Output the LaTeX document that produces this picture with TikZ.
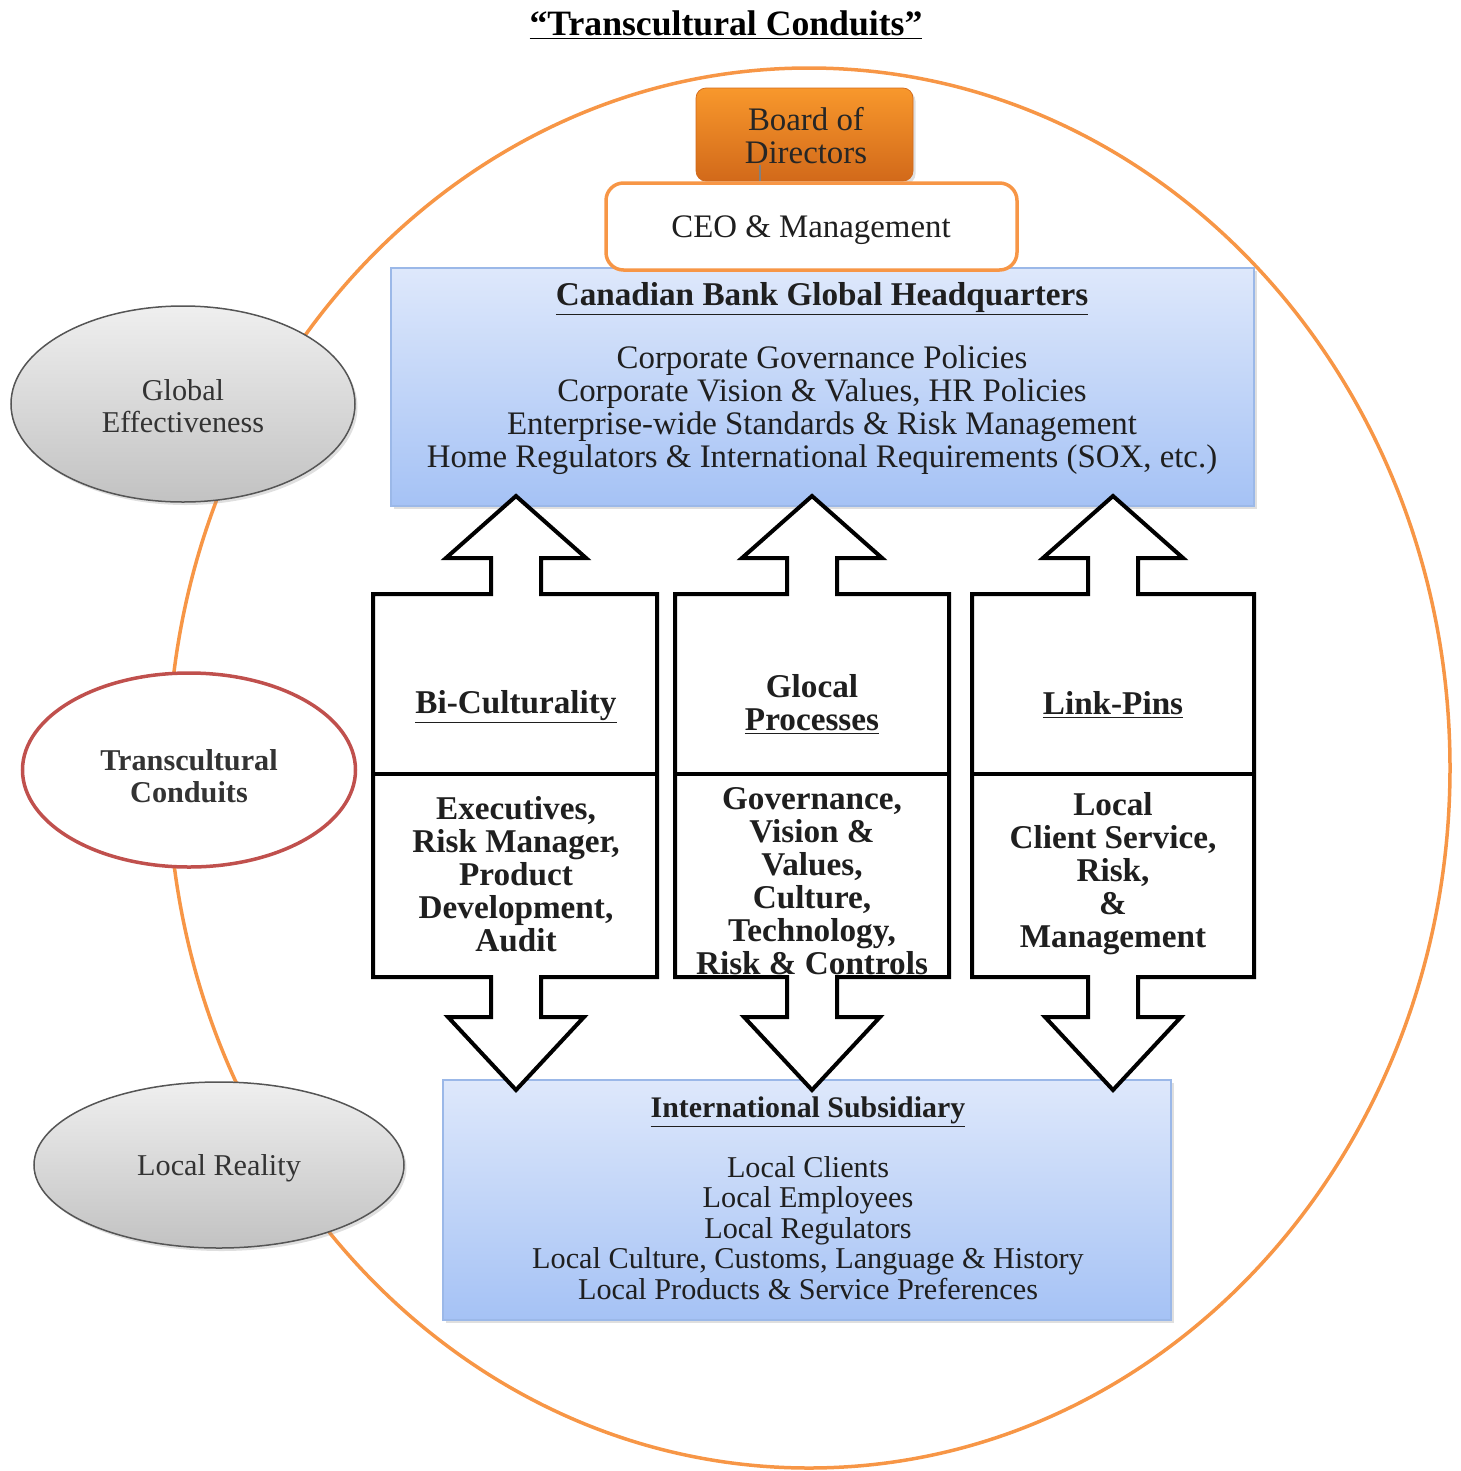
\documentclass[tikz,border=0pt]{standalone}
\usepackage{fontspec}
\setmainfont{Liberation Serif}
\usetikzlibrary{fit,shapes.geometric,shadows}

\definecolor{ringorange}{HTML}{F79646}
\definecolor{boardtop}{HTML}{F8982C}
\definecolor{boardbot}{HTML}{D2691A}
\definecolor{bluetop}{HTML}{DEE8FB}
\definecolor{bluebot}{HTML}{A5C2F5}
\definecolor{blueline}{HTML}{9BB8E8}
\definecolor{ovaltop}{HTML}{EFEFEF}
\definecolor{ovalbot}{HTML}{C2C2C2}
\definecolor{ovalline}{HTML}{555555}
\definecolor{conduitred}{HTML}{C0504D}

\tikzset{
  softshadow/.style={drop shadow={opacity=0.25, shadow xshift=0.5mm, shadow yshift=-0.6mm}},
  bluebox/.style={draw=blueline, line width=0.4mm, top color=bluetop, bottom color=bluebot, inner sep=0pt, softshadow},
  grayoval/.style={ellipse, draw=ovalline, line width=0.3mm, top color=ovaltop, bottom color=ovalbot, inner sep=0pt, softshadow},
  colbox/.style={draw=black, line width=0.8mm, fill=white, line join=miter},
  bodytext/.style={font=\fontsize{18.7}{18.8}\selectfont, align=center, inner sep=0pt, text=black!88},
  boldtext/.style={bodytext, font=\fontsize{18.9}{18.8}\selectfont\bfseries},
  subtext/.style={bodytext, font=\fontsize{17.2}{17.3}\selectfont},
  ovaltext/.style={font=\fontsize{17.2}{18}\selectfont, align=center, text=black!80}
}

\begin{document}
\begin{tikzpicture}[x=0.2mm, y=-0.2mm]
  \useasboundingbox (0,0) rectangle (1461,1471);

  % title
  \node[font=\fontsize{20.3}{22}\selectfont\bfseries, inner sep=0pt] (title) at (726,25)
    {\underline{“Transcultural Conduits”}};

  % orange ring
  \draw[ringorange, line width=0.7mm] (809,768) ellipse [x radius=641, y radius=700];

  % headquarters
  \node[bluebox, fit={(391,268) (1254,506)}] (hq) {};
  \node[boldtext] (hqtitle) at (822,299) {\underline{Canadian Bank Global Headquarters}};
  \node[bodytext] (hqbody) at (822,410) {Corporate Governance Policies\\
    Corporate Vision \& Values, HR Policies\\
    Enterprise-wide Standards \& Risk Management\\
    Home Regulators \& International Requirements (SOX, etc.)};

  % board and CEO
  \node[draw=boardbot, rounded corners=2mm, top color=boardtop, bottom color=boardbot,
    inner sep=0pt, softshadow, fit={(696,88) (913,181)}] (board) {};
  \node[bodytext, text=black!85] at (806,136) {Board of\\Directors};
  \node[draw=ringorange, line width=0.7mm, rounded corners=3.5mm, fill=white,
    inner sep=0pt, fit={(606,183) (1017,270)}] (ceo) {};
  \node[bodytext] at (811,230) {CEO \& Management};
  \coordinate (bodtick) at (760,165);
  \draw[gray, line width=0.3mm] (bodtick) -- (bodtick |- ceo.north);

  % subsidiary
  \node[bluebox, fit={(443,1080) (1171,1320)}] (sub) {};
  \node[font=\fontsize{17}{18}\selectfont\bfseries, inner sep=0pt, text=black!88] (subtitle) at (808,1112)
    {\underline{International Subsidiary}};
  \node[subtext] (subbody) at (808,1228) {Local Clients\\Local Employees\\Local Regulators\\
    Local Culture, Customs, Language \& History\\Local Products \& Service Preferences};

  % side ovals
  \node[grayoval, minimum width=68.8mm, minimum height=39.2mm] (global) at (183,404) {};
  \node[ovaltext] at (183,406) {Global\\Effectiveness};
  \node[ellipse, draw=conduitred, line width=0.7mm, fill=white, minimum width=66.6mm,
    minimum height=38.8mm, inner sep=0pt] (conduits) at (189,770) {};
  \node[ovaltext, font=\fontsize{17.2}{18}\selectfont\bfseries] at (189,776) {Transcultural\\Conduits};
  \node[grayoval, minimum width=74mm, minimum height=33.2mm] (local) at (219,1165) {};
  \node[ovaltext] at (219,1168) {Local Reality};

  % conduit columns with double block arrows
  \foreach \cx/\l/\r in {516/373/657, 812/675/949, 1113/972/1254} {
    \draw[colbox] (\cx-25,594) -- (\cx-25,558) -- (\cx-70,558) -- (\cx,496) -- (\cx+70,558)
      -- (\cx+25,558) -- (\cx+25,594) -- (\r,594) -- (\r,977) -- (\cx+25,977) -- (\cx+25,1017)
      -- (\cx+68,1017) -- (\cx,1090) -- (\cx-68,1017) -- (\cx-25,1017) -- (\cx-25,977)
      -- (\l,977) -- (\l,594) -- cycle;
    \draw[colbox] (\l,774) -- (\r,774);
  }

  \node[boldtext] (bicult) at (516,707) {\underline{Bi-Culturality}};
  \node[boldtext] (glocal) at (812,704) {Glocal\\\underline{Processes}};
  \node[boldtext] (linkpins) at (1113,705) {\underline{Link-Pins}};

  \node[boldtext] (bicultlow) at (516,874) {Executives,\\Risk Manager,\\Product\\Development,\\Audit};
  \begin{scope}
    \clip (675,774) rectangle (949,975);
    \node[boldtext] (glocallow) at (812,881) {Governance,\\Vision \&\\Values,\\Culture,\\Technology,\\Risk \& Controls};
  \end{scope}
  \node[boldtext] (linkpinslow) at (1113,874) {Local\\Client Service,\\Risk,\\\&\\Management};
\end{tikzpicture}
\end{document}
